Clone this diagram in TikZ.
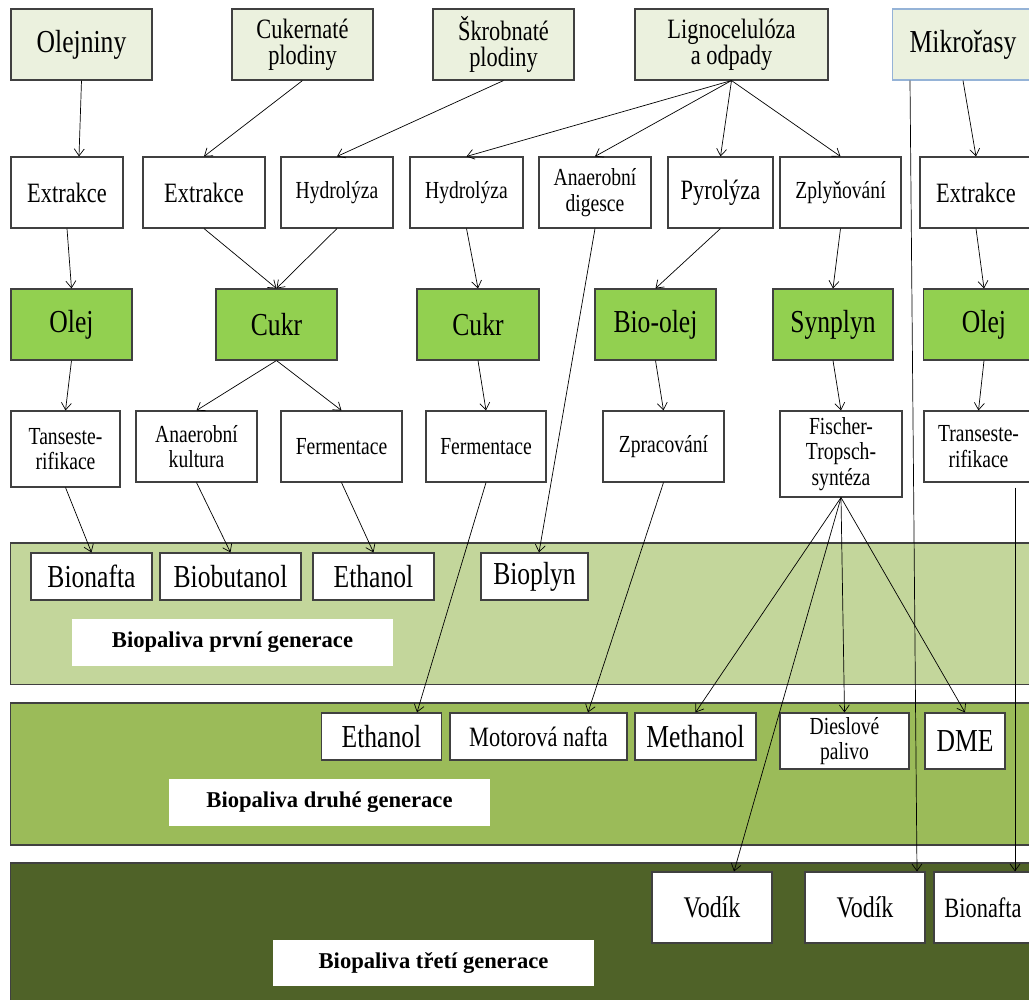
\documentclass[tikz,border=0pt]{standalone}
\usepackage{fontspec}
\setmainfont{Liberation Serif}[FakeStretch=0.8]
\newfontfamily\genfont{Liberation Serif}
\usetikzlibrary{calc,arrows.meta}
\definecolor{srcfill}{HTML}{EBF1DE}
\definecolor{prodfill}{HTML}{92D050}
\definecolor{genone}{HTML}{C3D69B}
\definecolor{gentwo}{HTML}{9BBB59}
\definecolor{genthree}{HTML}{4F6228}
\definecolor{edgegray}{HTML}{404040}
\definecolor{algaeblue}{HTML}{95B3D7}
\def\fbig{\fontsize{32}{32}\selectfont}
\def\fmid{\fontsize{28}{26}\selectfont}
\def\fsm{\fontsize{24.5}{25.5}\selectfont}
\tikzset{
  basebox/.style={draw=edgegray, line width=1.1pt, fill=white, inner sep=0pt, align=center, minimum height=71pt},
  srcbox/.style={basebox, fill=srcfill},
  prodbox/.style={basebox, fill=prodfill, font=\fbig},
  fuelbox/.style={basebox, minimum height=47pt, font=\fbig},
  genlabel/.style={fill=white, inner sep=0pt, minimum width=321pt, minimum height=47pt, font=\genfont\bfseries\fontsize{22.6}{24}\selectfont},
  band/.style={draw=edgegray, line width=1.1pt},
  arr/.style={-{Straight Barb[length=7pt,width=10pt]}, line width=0.7pt, black},
}

\begin{document}
\begin{tikzpicture}[x=1pt,y=-1pt]
  %%%%% START %%%%%
  \useasboundingbox (0,0) rectangle (1029,1000);
  \fill[white] (0,0) rectangle (1029,1000);
  \clip (0,0) rectangle (1029,1000);

  % generation bands
  \draw[band, fill=genone] (10.5,543) rectangle (1040,684.5);
  \draw[band, fill=gentwo] (10.5,703) rectangle (1040,845);
  \draw[band, fill=genthree] (10.5,863) rectangle (1040,1010);

  % feedstocks
  \node[srcbox, minimum width=141pt, font=\fbig] (olejniny) at (81.5,44.5) {Olejniny};
  \node[srcbox, minimum width=141pt, font=\fmid] (cukernate) at (302.5,44.5) {Cukernaté\\plodiny};
  \node[srcbox, minimum width=141pt, font=\fmid] (skrobnate) at (503.5,44.5) {Škrobnaté\\plodiny};
  \node[srcbox, minimum width=193pt, font=\fmid] (ligno) at (731.5,44.5) {Lignocelulóza\\a odpady};
  \node[srcbox, draw=algaeblue, minimum width=141pt, font=\fbig] (mikro) at (963,44.5) {Mikrořasy};

  % first processing step
  \node[basebox, minimum width=112pt, font=\fmid] (ext1) at (67,192.5) {Extrakce};
  \node[basebox, minimum width=122pt, font=\fmid] (ext2) at (204,192.5) {Extrakce};
  \node[basebox, minimum width=112pt, font=\fsm] (hyd1) at (337,192.5) {Hydrolýza};
  \node[basebox, minimum width=113pt, font=\fsm] (hyd2) at (466.5,192.5) {Hydrolýza};
  \node[basebox, minimum width=112pt, font=\fsm] (anad) at (595,192.5) {Anaerobní\\digesce};
  \node[basebox, minimum width=105pt, font=\fmid] (pyro) at (720.5,192.5) {Pyrolýza};
  \node[basebox, minimum width=121pt, font=\fsm] (zply) at (840.5,192.5) {Zplyňování};
  \node[basebox, minimum width=112pt, font=\fmid] (ext3) at (976,192.5) {Extrakce};

  % intermediates
  \node[prodbox, minimum width=121pt] (olej1) at (71.5,324.5) {Olej};
  \node[prodbox, minimum width=121pt] (cukr1) at (276.5,324.5) {Cukr};
  \node[prodbox, minimum width=122pt] (cukr2) at (478,324.5) {Cukr};
  \node[prodbox, minimum width=121pt] (biool) at (655.5,324.5) {Bio-olej};
  \node[prodbox, minimum width=120pt] (synp) at (833,324.5) {Synplyn};
  \node[prodbox, minimum width=121pt] (olej2) at (984,324.5) {Olej};

  % second processing step
  \node[basebox, minimum width=109pt, minimum height=76pt, font=\fsm] (trans1) at (65.5,449) {Tanseste-\\rifikace};
  \node[basebox, minimum width=121pt, font=\fsm] (anku) at (196.5,446.5) {Anaerobní\\kultura};
  \node[basebox, minimum width=121pt, font=\fsm] (ferm1) at (341.5,446.5) {Fermentace};
  \node[basebox, minimum width=120pt, font=\fsm] (ferm2) at (486,446.5) {Fermentace};
  \node[basebox, minimum width=121pt, font=\fsm] (zprac) at (663.5,446.5) {Zpracování};
  \node[basebox, minimum width=122pt, minimum height=86pt, font=\fsm] (fisch) at (841,454) {Fischer-\\Tropsch-\\syntéza};
  \node[basebox, minimum width=109pt, font=\fsm] (trans2) at (978.5,446.5) {Transeste-\\rifikace};

  % first generation
  \node[fuelbox, minimum width=121pt] (bion1) at (91.5,576.5) {Bionafta};
  \node[fuelbox, minimum width=141pt] (biob) at (230.5,576.5) {Biobutanol};
  \node[fuelbox, minimum width=121pt] (eth1) at (373.5,576.5) {Ethanol};
  \node[fuelbox, minimum width=107pt] (biopl) at (534.5,576.5) {Bioplyn};
  \node[genlabel] (lab1) at (232.5,642.5) {Biopaliva první generace};

  % second generation
  \node[fuelbox, minimum width=120pt] (eth2) at (381.5,736.5) {Ethanol};
  \node[fuelbox, minimum width=177pt, font=\fmid] (motor) at (538.5,736.5) {Motorová nafta};
  \node[fuelbox, minimum width=121pt] (meth) at (695.5,736.5) {Methanol};
  \node[fuelbox, minimum width=129pt, minimum height=56pt, font=\fsm] (diesel) at (844.5,741) {Dieslové\\palivo};
  \node[fuelbox, minimum width=80pt, minimum height=56pt] (dme) at (965,741) {DME};
  \node[genlabel] (lab2) at (329.5,802.5) {Biopaliva druhé generace};

  % third generation
  \node[basebox, minimum width=120pt, font=\fontsize{30}{30}\selectfont] (vod1) at (712,907.5) {Vodík};
  \node[basebox, minimum width=120pt, font=\fontsize{30}{30}\selectfont] (vod2) at (865,907.5) {Vodík};
  \node[basebox, minimum width=98pt, font=\fmid] (bion3) at (983,907.5) {Bionafta};
  \node[genlabel, minimum height=46pt] (lab3) at (433.5,963) {Biopaliva třetí generace};

  % connectors
  \draw[arr] (olejniny.south) -- ([xshift=12pt]ext1.north);
  \draw[arr] (cukernate.south) -- (ext2.north);
  \draw[arr] (skrobnate.south) -- (hyd1.north);
  \foreach \t in {hyd2,anad,pyro,zply}
    \draw[arr] (ligno.south) -- (\t.north);
  \draw[arr] (mikro.south) -- (ext3.north);
  \draw[arr] ([xshift=-53pt]mikro.south) -- ([xshift=52pt]vod2.north);

  \draw[arr] (ext1.south) -- (olej1.north);
  \draw[arr] (ext2.south) -- (cukr1.north);
  \draw[arr] (hyd1.south) -- (cukr1.north);
  \draw[arr] (hyd2.south) -- (cukr2.north);
  \draw[arr] (anad.south) -- ([xshift=4.5pt]biopl.north);
  \draw[arr] (pyro.south) -- (biool.north);
  \draw[arr] (zply.south) -- (synp.north);
  \draw[arr] (ext3.south) -- (olej2.north);

  \draw[arr] (olej1.south) -- (trans1.north);
  \draw[arr] (cukr1.south) -- (anku.north);
  \draw[arr] (cukr1.south) -- (ferm1.north);
  \draw[arr] (cukr2.south) -- (ferm2.north);
  \draw[arr] (biool.south) -- (zprac.north);
  \draw[arr] (synp.south) -- (fisch.north);
  \draw[arr] (olej2.south) -- (trans2.north);

  \draw[arr] (trans1.south) -- (bion1.north);
  \draw[arr] (anku.south) -- (biob.north);
  \draw[arr] (ferm1.south) -- (eth1.north);
  \draw[arr] (ferm2.south) -- ([xshift=35.5pt]eth2.north);
  \draw[arr] (zprac.south) -- ([xshift=49.5pt]motor.north);
  \draw[arr] (fisch.south) -- (meth.north);
  \draw[arr] (fisch.south) -- ([xshift=22pt]vod1.north);
  \draw[arr] (fisch.south) -- (diesel.north);
  \draw[arr] (fisch.south) -- (dme.north);
  \draw[arr] ([xshift=36.5pt,yshift=-5pt]trans2.south) -- ([xshift=32pt]bion3.north);
  %%%%% END %%%%%
\end{tikzpicture}
\end{document}
